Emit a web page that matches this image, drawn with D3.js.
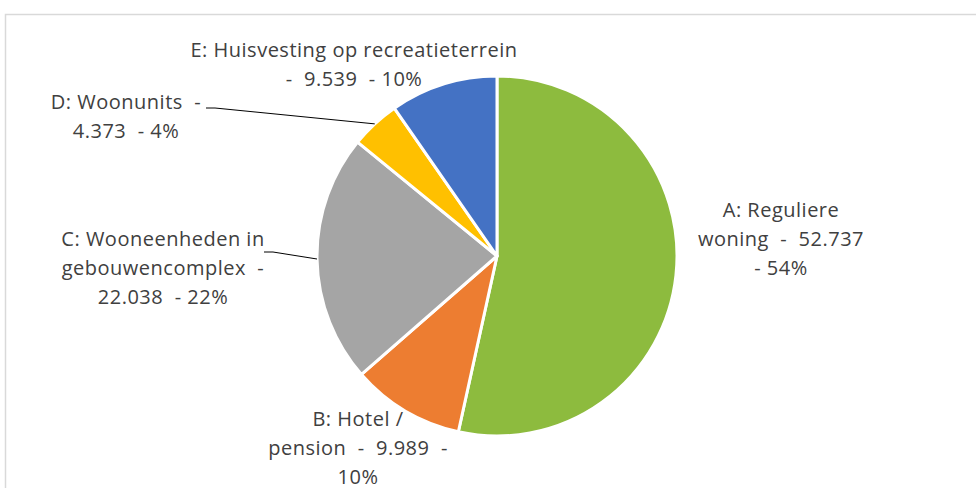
<!DOCTYPE html>
<html>
<head>
<meta charset="utf-8">
<script src="https://cdn.jsdelivr.net/npm/d3@7"></script>
<style>
  html, body { margin: 0; padding: 0; background: #fff; }
  svg text { font-family: "Open Sans", "Liberation Sans", sans-serif; fill: #404040; white-space: pre; letter-spacing: 0.5px; }
</style>
</head>
<body>
<svg id="chart" width="976" height="488"></svg>
<script>
// ---- data ----
const categories = ["A: Reguliere woning", "B: Hotel / pension", "C: Wooneenheden in gebouwencomplex", "D: Woonunits", "E: Huisvesting op recreatieterrein"];
const values = [52737, 9989, 22038, 4373, 9539];
const valueLabels = ["52.737", "9.989", "22.038", "4.373", "9.539"];
const percentLabels = ["54%", "10%", "22%", "4%", "10%"];
const colors = ["#8DBB3E", "#ED7D31", "#A5A5A5", "#FFC000", "#4472C4"];

const labelLines = [
  ["A: Reguliere", "woning  -  " + valueLabels[0], "- " + percentLabels[0]],
  ["B: Hotel /", "pension  -  " + valueLabels[1] + "  -", percentLabels[1]],
  ["C: Wooneenheden in", "gebouwencomplex  -", valueLabels[2] + "  - " + percentLabels[2]],
  ["D: Woonunits  -", valueLabels[3] + "  - " + percentLabels[3]],
  ["E: Huisvesting op recreatieterrein", "-  " + valueLabels[4] + "  - " + percentLabels[4]]
];

// ---- layout ----
const W = 976, H = 488;
const cx = 497, cy = 256, R = 180;
const lineH = 29;
const fontSize = 20;
// label block: centre x, first baseline y
const labelPos = [
  {x: 781, y: 217},
  {x: 358, y: 426},
  {x: 163, y: 246},
  {x: 126, y: 109},
  {x: 354, y: 57}
];
// leader lines start (label side), null if none
const leaderStart = [null, null, {x: 264, y: 252}, {x: 206, y: 108}, null];

const svg = d3.select("#chart");

// chart area border
svg.append("rect")
  .attr("x", 5.5).attr("y", 14.5)
  .attr("width", W + 20).attr("height", H + 20)
  .attr("fill", "none").attr("stroke", "#D9D9D9").attr("stroke-width", 1.5);

const pie = d3.pie().sort(null).value(d => d);
const arcs = pie(values);
const arc = d3.arc().innerRadius(0).outerRadius(R);

const g = svg.append("g").attr("transform", `translate(${cx},${cy})`);
g.selectAll("path.slice")
  .data(arcs)
  .join("path")
  .attr("class", "slice")
  .attr("d", arc)
  .attr("fill", (d, i) => colors[i])
  .attr("stroke", "#fff")
  .attr("stroke-width", 3)
  .attr("stroke-linejoin", "round");

// leader lines
arcs.forEach((d, i) => {
  const s = leaderStart[i];
  if (!s) return;
  const mid = (d.startAngle + d.endAngle) / 2;
  const ex = cx + R * Math.sin(mid);
  const ey = cy - R * Math.cos(mid);
  const line = d3.line();
  svg.append("path")
    .attr("d", line([[s.x, s.y], [s.x + 9, s.y], [ex, ey]]))
    .attr("fill", "none")
    .attr("stroke", "#000")
    .attr("stroke-width", 1);
});

// labels
labelLines.forEach((lines, i) => {
  const t = svg.append("text")
    .attr("text-anchor", "middle")
    .attr("font-size", fontSize)
    .attr("x", labelPos[i].x)
    .attr("y", labelPos[i].y);
  lines.forEach((ln, j) => {
    t.append("tspan")
      .attr("x", labelPos[i].x)
      .attr("y", labelPos[i].y + j * lineH)
      .text(ln);
  });
});
</script>
</body>
</html>
